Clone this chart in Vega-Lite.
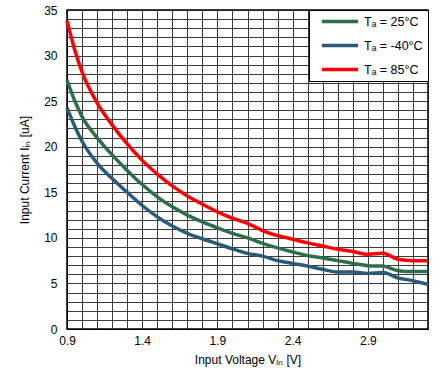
{
  "$schema": "https://vega.github.io/schema/vega-lite/v6.json",
  "width": 361,
  "height": 319,
  "autosize": {"type": "none"},
  "padding": {"left": 67, "top": 10, "right": 14, "bottom": 58},
  "background": "#ffffff",
  "config": {
    "font": "Liberation Sans",
    "view": {"stroke": "#000000", "strokeWidth": 1.5},
    "axis": {
      "domainColor": "#000000",
      "gridColor": "#1a1a1a",
      "gridWidth": 1,
      "gridOpacity": 0.85,
      "ticks": false,
      "labelColor": "#000000",
      "titleColor": "#000000",
      "labelFontSize": 12,
      "titleFontSize": 12,
      "titleFontWeight": "normal",
      "labelOverlap": false,
      "labelFlush": false,
      "labelFont": "Liberation Sans",
      "titleFont": "Liberation Sans"
    }
  },
  "data": {
    "values": [
      {"V": 0.9, "I": 33.8, "T": "Tₐ = 85°C"},
      {"V": 0.95, "I": 30.7, "T": "Tₐ = 85°C"},
      {"V": 1.0, "I": 28.2, "T": "Tₐ = 85°C"},
      {"V": 1.1, "I": 24.8, "T": "Tₐ = 85°C"},
      {"V": 1.2, "I": 22.4, "T": "Tₐ = 85°C"},
      {"V": 1.3, "I": 20.3, "T": "Tₐ = 85°C"},
      {"V": 1.4, "I": 18.5, "T": "Tₐ = 85°C"},
      {"V": 1.5, "I": 17.0, "T": "Tₐ = 85°C"},
      {"V": 1.6, "I": 15.7, "T": "Tₐ = 85°C"},
      {"V": 1.7, "I": 14.6, "T": "Tₐ = 85°C"},
      {"V": 1.8, "I": 13.7, "T": "Tₐ = 85°C"},
      {"V": 1.9, "I": 12.85, "T": "Tₐ = 85°C"},
      {"V": 2.0, "I": 12.15, "T": "Tₐ = 85°C"},
      {"V": 2.1, "I": 11.6, "T": "Tₐ = 85°C"},
      {"V": 2.2, "I": 10.8, "T": "Tₐ = 85°C"},
      {"V": 2.3, "I": 10.25, "T": "Tₐ = 85°C"},
      {"V": 2.4, "I": 9.85, "T": "Tₐ = 85°C"},
      {"V": 2.5, "I": 9.45, "T": "Tₐ = 85°C"},
      {"V": 2.6, "I": 9.1, "T": "Tₐ = 85°C"},
      {"V": 2.7, "I": 8.75, "T": "Tₐ = 85°C"},
      {"V": 2.8, "I": 8.5, "T": "Tₐ = 85°C"},
      {"V": 2.9, "I": 8.2, "T": "Tₐ = 85°C"},
      {"V": 3.0, "I": 8.3, "T": "Tₐ = 85°C"},
      {"V": 3.1, "I": 7.65, "T": "Tₐ = 85°C"},
      {"V": 3.2, "I": 7.5, "T": "Tₐ = 85°C"},
      {"V": 3.3, "I": 7.5, "T": "Tₐ = 85°C"},

      {"V": 0.9, "I": 27.3, "T": "Tₐ = 25°C"},
      {"V": 0.95, "I": 25.1, "T": "Tₐ = 25°C"},
      {"V": 1.0, "I": 23.3, "T": "Tₐ = 25°C"},
      {"V": 1.1, "I": 21.0, "T": "Tₐ = 25°C"},
      {"V": 1.2, "I": 19.1, "T": "Tₐ = 25°C"},
      {"V": 1.3, "I": 17.4, "T": "Tₐ = 25°C"},
      {"V": 1.4, "I": 15.85, "T": "Tₐ = 25°C"},
      {"V": 1.5, "I": 14.5, "T": "Tₐ = 25°C"},
      {"V": 1.6, "I": 13.4, "T": "Tₐ = 25°C"},
      {"V": 1.7, "I": 12.5, "T": "Tₐ = 25°C"},
      {"V": 1.8, "I": 11.75, "T": "Tₐ = 25°C"},
      {"V": 1.9, "I": 11.1, "T": "Tₐ = 25°C"},
      {"V": 2.0, "I": 10.5, "T": "Tₐ = 25°C"},
      {"V": 2.1, "I": 10.0, "T": "Tₐ = 25°C"},
      {"V": 2.2, "I": 9.4, "T": "Tₐ = 25°C"},
      {"V": 2.3, "I": 8.9, "T": "Tₐ = 25°C"},
      {"V": 2.4, "I": 8.45, "T": "Tₐ = 25°C"},
      {"V": 2.5, "I": 8.05, "T": "Tₐ = 25°C"},
      {"V": 2.6, "I": 7.8, "T": "Tₐ = 25°C"},
      {"V": 2.7, "I": 7.5, "T": "Tₐ = 25°C"},
      {"V": 2.8, "I": 7.2, "T": "Tₐ = 25°C"},
      {"V": 2.9, "I": 6.95, "T": "Tₐ = 25°C"},
      {"V": 3.0, "I": 6.9, "T": "Tₐ = 25°C"},
      {"V": 3.1, "I": 6.4, "T": "Tₐ = 25°C"},
      {"V": 3.2, "I": 6.3, "T": "Tₐ = 25°C"},
      {"V": 3.3, "I": 6.3, "T": "Tₐ = 25°C"},

      {"V": 0.9, "I": 24.3, "T": "Tₐ = -40°C"},
      {"V": 0.95, "I": 22.3, "T": "Tₐ = -40°C"},
      {"V": 1.0, "I": 20.6, "T": "Tₐ = -40°C"},
      {"V": 1.1, "I": 18.2, "T": "Tₐ = -40°C"},
      {"V": 1.2, "I": 16.5, "T": "Tₐ = -40°C"},
      {"V": 1.3, "I": 15.0, "T": "Tₐ = -40°C"},
      {"V": 1.4, "I": 13.55, "T": "Tₐ = -40°C"},
      {"V": 1.5, "I": 12.3, "T": "Tₐ = -40°C"},
      {"V": 1.6, "I": 11.3, "T": "Tₐ = -40°C"},
      {"V": 1.7, "I": 10.5, "T": "Tₐ = -40°C"},
      {"V": 1.8, "I": 9.9, "T": "Tₐ = -40°C"},
      {"V": 1.9, "I": 9.35, "T": "Tₐ = -40°C"},
      {"V": 2.0, "I": 8.8, "T": "Tₐ = -40°C"},
      {"V": 2.1, "I": 8.3, "T": "Tₐ = -40°C"},
      {"V": 2.2, "I": 8.0, "T": "Tₐ = -40°C"},
      {"V": 2.3, "I": 7.5, "T": "Tₐ = -40°C"},
      {"V": 2.4, "I": 7.2, "T": "Tₐ = -40°C"},
      {"V": 2.5, "I": 6.9, "T": "Tₐ = -40°C"},
      {"V": 2.6, "I": 6.55, "T": "Tₐ = -40°C"},
      {"V": 2.7, "I": 6.25, "T": "Tₐ = -40°C"},
      {"V": 2.8, "I": 6.25, "T": "Tₐ = -40°C"},
      {"V": 2.9, "I": 6.1, "T": "Tₐ = -40°C"},
      {"V": 3.0, "I": 6.2, "T": "Tₐ = -40°C"},
      {"V": 3.1, "I": 5.6, "T": "Tₐ = -40°C"},
      {"V": 3.2, "I": 5.3, "T": "Tₐ = -40°C"},
      {"V": 3.3, "I": 4.9, "T": "Tₐ = -40°C"}
    ]
  },
  "mark": {"type": "line", "strokeWidth": 3.5, "interpolate": "monotone"},
  "encoding": {
    "x": {
      "field": "V",
      "type": "quantitative",
      "scale": {"domain": [0.9, 3.3], "nice": false, "zero": false},
      "axis": {
        "title": "Input Voltage Vᵢₙ [V]",
        "values": [0.9, 1.0, 1.1, 1.2, 1.3, 1.4, 1.5, 1.6, 1.7, 1.8, 1.9, 2.0, 2.1, 2.2, 2.3, 2.4, 2.5, 2.6, 2.7, 2.8, 2.9, 3.0, 3.1, 3.2, 3.3],
        "labelExpr": "(round(datum.value*10)-9)%5==0 ? format(datum.value,'.1f') : ''",
        "labelPadding": 6,
        "titlePadding": 8
      }
    },
    "y": {
      "field": "I",
      "type": "quantitative",
      "scale": {"domain": [0, 35], "nice": false},
      "axis": {
        "title": "Input Current Iᵢₙ [uA]",
        "values": [0, 1, 2, 3, 4, 5, 6, 7, 8, 9, 10, 11, 12, 13, 14, 15, 16, 17, 18, 19, 20, 21, 22, 23, 24, 25, 26, 27, 28, 29, 30, 31, 32, 33, 34, 35],
        "labelExpr": "datum.value%5==0 ? datum.label : ''",
        "labelPadding": 10,
        "titlePadding": 12
      }
    },
    "color": {
      "field": "T",
      "type": "nominal",
      "scale": {
        "domain": ["Tₐ = 25°C", "Tₐ = -40°C", "Tₐ = 85°C"],
        "range": ["#2E6E4B", "#2A5A78", "#FF0000"]
      },
      "legend": {
        "title": null,
        "orient": "top-right",
        "offset": 0,
        "symbolType": "stroke",
        "symbolSize": 1296,
        "symbolStrokeWidth": 3.5,
        "symbolOffset": 6,
        "clipHeight": 13,
        "strokeColor": "#000000",
        "fillColor": "#ffffff",
        "padding": 5,
        "rowPadding": 11,
        "labelFontSize": 12.5,
        "labelFont": "Liberation Sans",
        "labelColor": "#000000",
        "labelOffset": 4,
        "labelExpr": "datum.label + '\u00a0\u00a0\u00a0\u00a0\u00a0'",
        "cornerRadius": 0
      }
    }
  }
}
